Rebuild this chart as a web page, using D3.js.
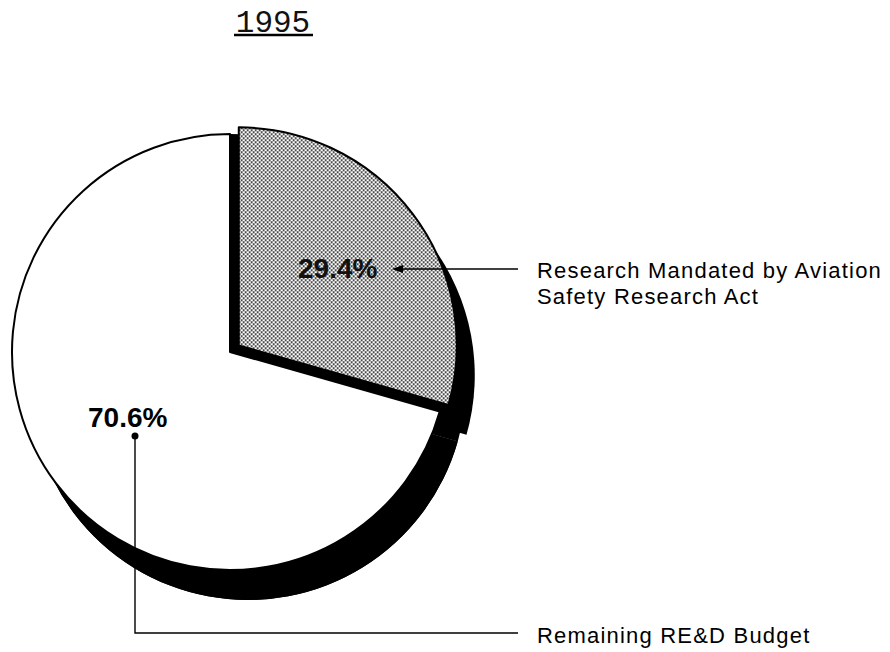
<!DOCTYPE html>
<html>
<head>
<meta charset="utf-8">
<script src="https://cdn.jsdelivr.net/npm/d3@7"></script>
<style>
  body { margin: 0; background: #fff; }
  svg { display: block; }
</style>
</head>
<body>
<svg id="chart" width="890" height="652"></svg>
<script>
// --- data ---
const title = "1995";
const categories = ["Research Mandated by Aviation Safety Research Act", "Remaining RE&D Budget"];
const values = [29.4, 70.6];
const pctLabels = ["29.4%", "70.6%"];
const labelLines = [
  ["Research Mandated by Aviation", "Safety Research Act"],
  ["Remaining RE&D Budget"]
];

// --- layout ---
const W = 890, H = 652;
const cx = 230, cy = 352, r = 218;
const depth = [18, 30];      // 3D thickness (shadow shift)
const explode = 11;          // pull-out of the small slice

const svg = d3.select("#chart");
svg.append("rect").attr("width", W).attr("height", H).attr("fill", "#fff");

// halftone dots for the shaded slice
const defs = svg.append("defs");
const pat = defs.append("pattern")
  .attr("id", "dots")
  .attr("width", 4).attr("height", 4)
  .attr("patternUnits", "userSpaceOnUse");
pat.append("rect").attr("width", 4).attr("height", 4).attr("fill", "#fff");
pat.append("rect").attr("x", 0).attr("y", 0).attr("width", 1.7).attr("height", 1.7).attr("fill", "#111");
pat.append("rect").attr("x", 2).attr("y", 2).attr("width", 1.7).attr("height", 1.7).attr("fill", "#111");

const arcs = d3.pie().sort(null).value(d => d)(values);
const arc = d3.arc().innerRadius(0).outerRadius(r);

function shift(d, i) {
  const k = i === 0 ? explode : 0;
  const a = (d.startAngle + d.endAngle) / 2;
  return [Math.sin(a) * k, -Math.cos(a) * k];
}

// 1) shadows (depth) in black, exploded and un-exploded so the gap is filled
const shadows = svg.append("g");
arcs.forEach((d, i) => {
  const [ex, ey] = shift(d, i);
  shadows.append("path")
    .attr("d", arc(d))
    .attr("fill", "#000")
    .attr("transform", `translate(${cx + ex + depth[0]},${cy + ey + depth[1]})`);
  shadows.append("path")
    .attr("d", arc(d))
    .attr("fill", "#000")
    .attr("transform", `translate(${cx + depth[0]},${cy + depth[1]})`);
});

// 2) black wall behind the pulled-out slice
svg.append("path")
  .attr("d", arc(arcs[0]))
  .attr("fill", "#000")
  .attr("transform", `translate(${cx},${cy})`);

// 3) faces
svg.append("g").selectAll("path")
  .data(arcs.slice().reverse())
  .join("path")
  .attr("d", arc)
  .attr("fill", d => d.index === 0 ? "url(#dots)" : "#fff")
  .attr("stroke", "#000")
  .attr("stroke-width", 2)
  .attr("stroke-linejoin", "round")
  .attr("transform", d => {
    const [ex, ey] = shift(d, d.index);
    return `translate(${cx + ex},${cy + ey})`;
  });

// --- title ---
svg.append("text")
  .attr("x", 273).attr("y", 32)
  .attr("text-anchor", "middle")
  .attr("font-family", "'Liberation Mono', 'DejaVu Sans Mono', monospace")
  .attr("font-size", 31)
  .attr("fill", "#111")
  .text(title);
svg.append("line")
  .attr("x1", 234).attr("x2", 313).attr("y1", 35).attr("y2", 35)
  .attr("stroke", "#000").attr("stroke-width", 2.5);

// --- percentage labels ---
const sans = "'Liberation Sans', Arial, Helvetica, sans-serif";
svg.append("text")
  .attr("x", 298).attr("y", 278)
  .attr("font-family", sans).attr("font-weight", "bold").attr("font-size", 28)
  .attr("fill", "#111")
  .text(pctLabels[0]);
svg.append("text")
  .attr("x", 88).attr("y", 427)
  .attr("font-family", sans).attr("font-weight", "bold").attr("font-size", 28)
  .attr("fill", "#000")
  .text(pctLabels[1]);

// --- leaders ---
svg.append("line")
  .attr("x1", 398).attr("x2", 518).attr("y1", 269).attr("y2", 269)
  .attr("stroke", "#000").attr("stroke-width", 1.6);
svg.append("path")
  .attr("d", "M392,269 L403,265 L403,273 Z")
  .attr("fill", "#000");

svg.append("circle").attr("cx", 135).attr("cy", 436).attr("r", 3.5).attr("fill", "#000");
svg.append("path")
  .attr("d", "M135,436 V633 H518")
  .attr("fill", "none").attr("stroke", "#000").attr("stroke-width", 1.4);

// --- category labels ---
const catY = [[278, 304], [643]];
labelLines.forEach((lines, i) => {
  lines.forEach((s, j) => {
    svg.append("text")
      .attr("x", 537).attr("y", catY[i][j])
      .attr("font-family", sans).attr("font-size", 22)
      .attr("letter-spacing", 1.2)
      .attr("fill", "#000")
      .text(s);
  });
});
</script>
</body>
</html>
